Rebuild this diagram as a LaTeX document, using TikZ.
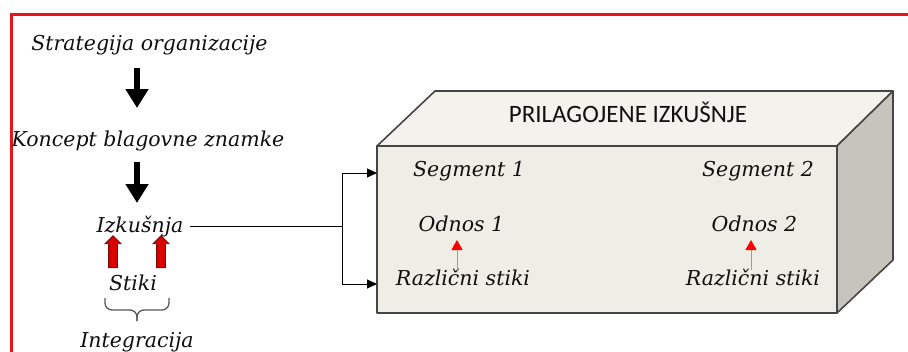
\documentclass[tikz,border=0pt]{standalone}
\usepackage{fontspec}
\setmainfont{DejaVu Serif}
\newfontfamily\carl{Carlito}
\usetikzlibrary{arrows.meta,shapes.arrows,calc}
\definecolor{frontc}{HTML}{EEEDE6}
\definecolor{topc}{HTML}{F3F2ED}
\definecolor{sidec}{HTML}{C6C5BD}
\definecolor{edgec}{HTML}{454545}
\definecolor{txtc}{HTML}{101010}
\definecolor{darkred}{HTML}{7A0A0A}
\definecolor{framered}{HTML}{E8141B}
\begin{document}
\begin{tikzpicture}[x=1pt,y=-1pt,
  it/.style={font=\itshape\fontsize{20.5}{22}\selectfont, text=txtc, inner sep=0pt, anchor=base},
  caps/.style={font=\carl\fontsize{25}{27}\selectfont, text=txtc, inner sep=0pt, anchor=base},
  boxline/.style={draw=edgec, line width=1.6pt, line join=round},
  bigarrow/.style={line width=6pt, -{Triangle[width=22pt,length=19pt]}},
  conn/.style={line width=1pt},
  connarrow/.style={line width=1pt, -{Triangle[width=9pt,length=10pt]}},
  blockarrow/.style={single arrow, draw=darkred, fill=red!85!black, line width=0.8pt,
    minimum height=32pt, inner sep=4pt, single arrow head extend=3.5pt,
    single arrow head indent=0pt, rotate=90},
  smallred/.style={draw=red!55, line width=1pt, -{Triangle[width=11pt,length=10pt,color=red,fill=red]}},
  bracestyle/.style={draw=black!65, line width=1.3pt, rounded corners=7pt}
]
\useasboundingbox (0,0) rectangle (908,351);
\fill[white] (0,0) rectangle (908,351);
\draw[framered, line width=3pt] (11,356) -- (11,14.5) -- (912,14.5);

% 3D box
\draw[boxline, fill=frontc] (377,146) rectangle (837,313);
\draw[boxline, fill=topc] (377,146) -- (435,91) -- (893,91) -- (837,146) -- cycle;
\draw[boxline, fill=sidec] (837,146) -- (893,91) -- (893,260) -- (837,313) -- cycle;

% left column
\node[it] (strat) at (149.5,50) {Strategija organizacije};
\node[it] (konc) at (148,146) {Koncept blagovne znamke};
\node[it] (izk) at (140,232) {Izkušnja};
\node[it] (stiki) at (133,290) {Stiki};
\node[it] (integ) at (137,347) {Integracija};

\draw[bigarrow] ($(strat.base -| konc.base)+(-11,18)$) -- ($(konc.base)+(-11,-38)$);
\draw[bigarrow] ($(konc.base)+(-11,16)$) -- ($(konc.base |- izk.base)+(-11,-29)$);

\node[blockarrow] (ra1) at (113,254) {};
\node[blockarrow] (ra2) at (161,254) {};

% brace under "Stiki"
\coordinate (bl) at (105,298);
\coordinate (br) at (169,298);
\coordinate (btip) at (137,321);
\draw[bracestyle] (bl) |- (btip |- 0,310) -- (btip);
\draw[bracestyle] (br) |- (btip |- 0,310) -- (btip);

% box texts
\node[caps] (title) at (628,122) {PRILAGOJENE IZKUŠNJE};
\node[it] (seg1) at (469,176) {Segment 1};
\node[it] (od1) at (461.5,231) {Odnos 1};
\node[it] (rs1) at (463,285) {Različni stiki};
\node[it] (seg2) at (758,176) {Segment 2};
\node[it] (od2) at (754.5,231) {Odnos 2};
\node[it] (rs2) at (753,285) {Različni stiki};

\draw[smallred] ($(rs1.base)+(-6,-15)$) -- ($(rs1.base |- od1.base)+(-6,9)$);
\draw[smallred] ($(rs2.base)+(-2,-15)$) -- ($(rs2.base |- od2.base)+(-2,9)$);

% connector
\coordinate (in1) at (377,173);
\coordinate (in2) at (377,284);
\coordinate (split) at (342,226);
\draw[conn] ([xshift=6pt]izk.east |- split) -- (split);
\draw[connarrow] (split) |- (in1);
\draw[connarrow] (split) |- (in2);
\end{tikzpicture}
\end{document}
